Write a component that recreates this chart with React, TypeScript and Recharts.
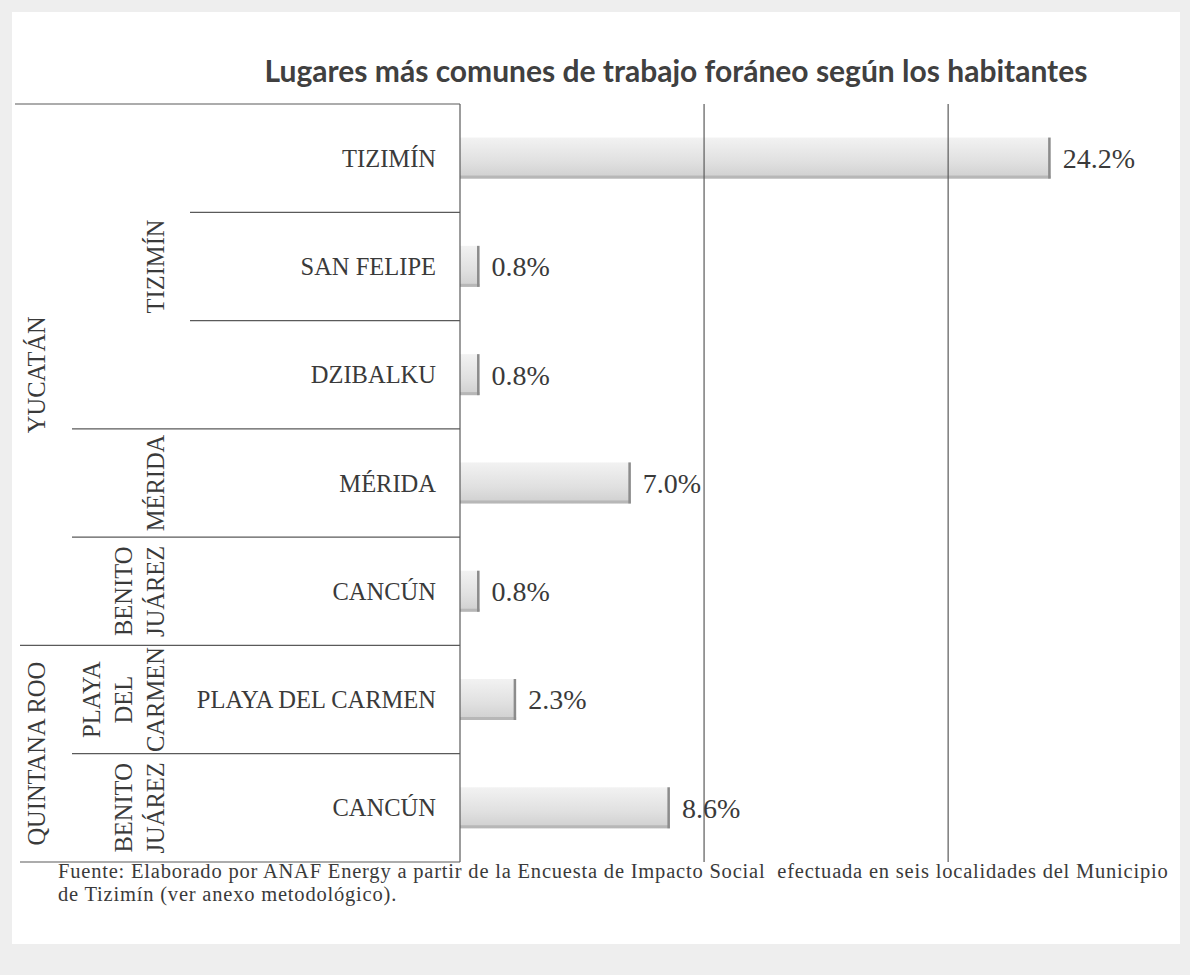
import React from "react";
import { Bar, BarChart, LabelList, ReferenceLine, XAxis, YAxis } from "recharts";

const places = ["TIZIMÍN", "SAN FELIPE", "DZIBALKU", "MÉRIDA", "CANCÚN", "PLAYA DEL CARMEN", "CANCÚN"];
const municipios = ["TIZIMÍN", "TIZIMÍN", "TIZIMÍN", "MÉRIDA", "BENITO JUÁREZ", "PLAYA DEL CARMEN", "BENITO JUÁREZ"];
const estados = ["YUCATÁN", "YUCATÁN", "YUCATÁN", "YUCATÁN", "YUCATÁN", "QUINTANA ROO", "QUINTANA ROO"];
const shares = [24.2, 0.8, 0.8, 7.0, 0.8, 2.3, 8.6];
const gridTicks = [10, 20];

const title = "Lugares más comunes de trabajo foráneo según los habitantes";
const source1 =
  "Fuente: Elaborado por ANAF Energy a partir de la Encuesta de Impacto Social  efectuada en seis localidades del Municipio";
const source2 = "de Tizimín (ver anexo metodológico).";

const W = 1190;
const H = 975;
const PLOT_TOP = 104;
const PLOT_BOTTOM = 862;
const AXIS_W = 460;
const band = (PLOT_BOTTOM - PLOT_TOP) / places.length;

const serif = "'Liberation Serif', 'DejaVu Serif', serif";
const textColor = "#3a3a3a";
const lineColor = "#5a5a5a";
const labelSize = 24.5;

const data = places.map((p, i) => ({ id: String(i), share: shares[i] }));

function spanOf(arr: string[], i: number) {
  let n = 1;
  while (i + n < arr.length && arr[i + n] === arr[i]) n++;
  return n;
}

function CategoryTick(props: any) {
  const { y, index } = props;
  const top = y - band / 2;
  let lineStart = 190;
  if (index === 0) lineStart = 15;
  else if (estados[index] !== estados[index - 1]) lineStart = 20;
  else if (municipios[index] !== municipios[index - 1]) lineStart = 72;

  const newMuni = index === 0 || municipios[index] !== municipios[index - 1] || estados[index] !== estados[index - 1];
  const newState = index === 0 || estados[index] !== estados[index - 1];
  const muniLines = municipios[index].split(" ");

  return (
    <g>
      <line x1={lineStart} x2={AXIS_W} y1={top} y2={top} stroke={lineColor} strokeWidth={1.2} />
      {index === places.length - 1 && (
        <line x1={20} x2={AXIS_W} y1={top + band} y2={top + band} stroke={lineColor} strokeWidth={1.2} />
      )}
      <text x={436} y={y} dy="0.35em" textAnchor="end" fontFamily={serif} fontSize={labelSize} fill={textColor}>
        {places[index]}
      </text>
      {newMuni &&
        muniLines.map((ln, k) => {
          const cy = top + (spanOf(municipios, index) * band) / 2;
          const cx = 155 - (muniLines.length - 1 - k) * 32;
          return (
            <text
              key={k}
              x={cx}
              y={cy}
              dy="0.35em"
              textAnchor="middle"
              transform={`rotate(-90 ${cx} ${cy})`}
              fontFamily={serif}
              fontSize={labelSize}
              fill={textColor}
            >
              {ln}
            </text>
          );
        })}
      {newState && (() => {
        const cy = top + (spanOf(estados, index) * band) / 2;
        const cx = 36;
        return (
          <text
            x={cx}
            y={cy}
            dy="0.35em"
            textAnchor="middle"
            transform={`rotate(-90 ${cx} ${cy})`}
            fontFamily={serif}
            fontSize={labelSize}
            fill={textColor}
          >
            {estados[index]}
          </text>
        );
      })()}
    </g>
  );
}

function BevelBar(props: any) {
  const { x, y, width, height } = props;
  if (!width || width <= 0) return null;
  return (
    <g>
      <rect x={x} y={y} width={width} height={height} fill="url(#barFill)" />
      <rect x={x} y={y + height - 3} width={width} height={3} fill="#b0b0b0" opacity={0.8} />
      <rect x={x + width - 2.5} y={y} width={2.5} height={height} fill="#8c8c8c" />
    </g>
  );
}

export default function App() {
  return (
    <div style={{ position: "absolute", left: 0, top: 0, width: W, height: H, background: "#eeeeee" }}>
      <div style={{ position: "absolute", left: 12, top: 12, width: W - 22, height: 932, background: "#ffffff" }} />
      <div
        style={{
          position: "absolute",
          left: 0,
          width: W,
          top: 52,
          paddingLeft: 162,
          boxSizing: "border-box",
          textAlign: "center",
          fontFamily: "Lato, 'Open Sans', sans-serif",
          fontWeight: 700,
          fontSize: 30,
          color: "#404040",
        }}
      >
        {title}
      </div>
      <div style={{ position: "absolute", left: 0, top: 0 }}>
        <BarChart
          width={W}
          height={H}
          data={data}
          layout="vertical"
          margin={{ top: PLOT_TOP, bottom: H - PLOT_BOTTOM, left: 0, right: 10 }}
          barCategoryGap="31%"
        >
          <defs>
            <linearGradient id="barFill" x1="0" y1="0" x2="0" y2="1">
              <stop offset="0%" stopColor="#f2f2f2" />
              <stop offset="60%" stopColor="#e0e0e0" />
              <stop offset="100%" stopColor="#cfcfcf" />
            </linearGradient>
          </defs>
          <XAxis type="number" domain={[0, 29.5]} hide />
          <YAxis
            type="category"
            dataKey="id"
            width={AXIS_W}
            axisLine={{ stroke: lineColor, strokeWidth: 1.2 }}
            tickLine={false}
            tick={<CategoryTick />}
            interval={0}
          />
          {gridTicks.map((t) => (
            <ReferenceLine key={t} x={t} stroke={lineColor} strokeWidth={1.2} />
          ))}
          <Bar dataKey="share" shape={<BevelBar />} isAnimationActive={false}>
            <LabelList
              dataKey="share"
              position="right"
              offset={12}
              formatter={(v: any) => `${Number(v).toFixed(1)}%`}
              style={{ fontFamily: serif, fontSize: 28, fill: textColor }}
            />
          </Bar>
        </BarChart>
      </div>
      <div
        style={{
          position: "absolute",
          left: 58,
          top: 860,
          width: 1125,
          fontFamily: serif,
          fontSize: 20.5,
          letterSpacing: 0.8,
          lineHeight: "23px",
          color: "#3a3a3a",
          whiteSpace: "pre",
        }}
      >
        {source1}
        {"\n"}
        {source2}
      </div>
    </div>
  );
}
